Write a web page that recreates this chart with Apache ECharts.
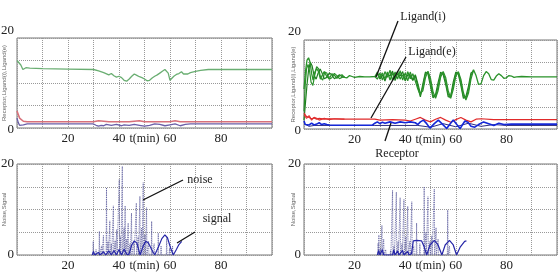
<!DOCTYPE html>
<html>
<head>
<meta charset="utf-8">
<script src="https://cdn.jsdelivr.net/npm/echarts@6/dist/echarts.min.js"></script>
<style>
html, body { margin: 0; padding: 0; background: #fff; }
#chart { width: 558px; height: 272px; }
</style>
</head>
<body>
<div id="chart"></div>
<script>
// tick labels shown on the axes
const xTickLabels = [20, 40, 60, 80]
const yTickLabels = [0, 20]

// top left panel, [t, value]
const tlLigandI = [[0,15.0],[0.7,15.4],[1.5,14.0],[2.3,13.0],[3.5,13.4],[5,13.3],[10,13.2],[20,13.1],[30,13.0],[32,12.7],[34,12.3],[36,11.8],[37,12.1],[38,11.6],[39,11.3],[40,11.5],[41,11.2],[42,10.6],[43,10.4],[44,10.9],[45,11.5],[46,12.0],[47,11.7],[48,11.4],[49,11.2],[50,10.9],[51,10.5],[52,10.6],[53,11.1],[54,11.5],[55,11.8],[56,12.2],[57,12.6],[58,13.0],[58.7,13.2],[59.3,12.2],[60,10.6],[60.6,10.8],[61.5,11.5],[62.5,11.9],[63.5,12.1],[64.5,12.5],[65.3,12.0],[66,11.8],[67,12.0],[68,12.3],[70,12.6],[72,12.8],[75,13.0],[80,13.0],[100,13.0]]
const tlLigandE = [[0,3.8],[0.5,3.0],[1,2.2],[1.5,1.8],[2.5,1.5],[4,1.4],[30,1.4],[32,1.6],[34,1.5],[36,1.4],[44,1.4],[48,1.6],[50,1.4],[60,1.4],[62,1.6],[64,1.4],[100,1.4]]
const tlReceptor = [[0,2.2],[0.5,1.2],[1,0.6],[1.5,0.5],[2.5,0.7],[4,0.9],[30,0.9],[31,0.6],[32,0.4],[33,0.6],[34,0.5],[35,0.8],[37,0.6],[39,0.8],[41,0.5],[42,0.7],[44,0.6],[46,0.8],[48,0.6],[50,0.4],[52,0.6],[54,0.9],[56,0.8],[58,0.5],[60,0.7],[62,0.9],[64,0.5],[66,0.8],[68,0.9],[100,0.9]]

// top right panel
const trLigandI = [[0,9],[0.6,13],[1.2,15.5],[1.8,16],[2.4,15],[3,12.5],[3.6,11],[4.3,12.8],[5,13.6],[5.8,12.8],[6.5,11.2],[7.3,12.2],[8,12.9],[9,11.8],[10,11.3],[11,12.4],[12,12.1],[13,11.4],[14,11.9],[15,12.2],[16,11.6],[17,11.5],[18,12.0],[19,11.8],[20,11.6],[22,11.8],[24,11.7],[26,11.7],[28,11.8],[29,12.3],[30,11.6],[31,12.6],[32,11.3],[33,12.8],[34,11.0],[35,12.5],[36,11.4],[37,13.0],[38,11.2],[39,12.2],[40,11.0],[41,12.9],[42,11.3],[43,12.4],[44,10.8],[45,9.0],[46,7.6],[47,9.5],[48,12.4],[49,12.8],[50,10.5],[51,7.6],[52,7.2],[53,9.5],[54,12.2],[55,12.7],[56,10.8],[57,7.8],[57.8,7.0],[59,9.8],[60,12.3],[61,12.7],[62,10.5],[63,7.4],[64,6.8],[65,8.8],[66,12.0],[67,13.3],[68,12.0],[69,10.0],[70,10.2],[71,12.0],[72,12.9],[73,12.4],[74,11.1],[75,11.0],[76,11.9],[77,12.4],[78,12.0],[79,11.4],[80,11.5],[81,12.0],[82,11.9],[83,11.6],[84,11.7],[86,11.8],[90,11.7],[100,11.7]]
const trLigandIb = [[0,4],[0.5,10],[1,13.5],[1.6,14.5],[2.2,13],[2.8,10.5],[3.5,9.8],[4.2,12],[5,14],[5.8,13.5],[6.6,11.5],[7.4,11],[8.2,12.8],[9,12.6],[10,11.2],[11,11.5],[12,12.5],[13,12],[14,11.3],[15,11.6],[16,11.8],[22,'-'],[28,11.8],[29,11.2],[30,12.6],[31,11.0],[32,12.9],[33,11.6],[34,13.2],[35,10.9],[36,12.8],[37,11.2],[38,13.1],[39,11.0],[40,12.6],[41,10.8],[42,12.8],[43,11.0],[44,12.2],[45,10.2],[46,8.0],[47,8.6],[48,11.5],[49,13.0],[50,11.4],[51,8.4],[52,6.9],[53,8.6],[54,11.6],[55,12.9],[56,11.6],[57,8.6],[58,6.9],[59,8.9],[60,11.8],[61,12.9],[62,11.2],[63,8.2],[64,6.5],[65,8.0],[66,11.2],[67,13.2]]
const trLigandIc = [[0,2],[0.6,6],[1.2,10],[1.8,13.2],[2.5,15],[3.2,14.2],[4,12],[4.8,11.2],[5.6,12.6],[6.4,13.5],[7.2,12.5],[8,11.3],[9,11.6],[10,12.6],[11,12.2],[12,11.3],[13,11.7],[14,12.2],[15,11.8],[16,11.6],[22,'-'],[28,11.7],[29,12.8],[30,11.2],[31,12.2],[32,10.8],[33,12.4],[34,11.9],[35,13.0],[36,10.9],[37,12.4],[38,11.9],[39,12.9],[40,10.8],[41,12.2],[42,12.0],[43,10.9],[44,12.0],[45,9.5],[46,7.2],[47,10.2],[48,12.8],[49,12.4],[50,9.6],[51,7.0],[52,7.8],[53,10.4],[54,12.8],[55,12.2],[56,10.0],[57,7.2],[58,7.4],[59,10.6],[60,12.8],[61,12.3],[62,9.8],[63,6.9],[64,7.3],[65,9.6],[66,12.6],[67,13.0]]
const trLigandE = [[0,3.6],[0.5,3.2],[1,2.8],[2,2.6],[3,2.3],[4,2.5],[5,2.2],[6,2.4],[8,2.2],[10,2.3],[15,2.2],[28,2.2],[30,2.0],[35,2.1],[40,2.0],[42,1.8],[44,2.2],[46,2.6],[48,2.0],[50,1.6],[52,2.2],[54,2.6],[56,2.0],[58,1.5],[60,2.1],[62,2.6],[64,2.0],[66,1.6],[68,2.2],[70,2.3],[75,2.1],[100,2.1]]
const trLigandEb = [[0,3.2],[1,2.4],[2,3.0],[3,2.0],[4,2.6],[5,2.4],[6,2.0],[8,2.4],[10,2.1],[12,2.3],[16,2.2]]
const trReceptor = [[0,1.8],[0.5,1.0],[1.2,0.6],[2,0.9],[3,1.3],[4,0.9],[5,1.1],[6,1.4],[7,1.0],[8,1.2],[9,1.0],[10,0.9],[12,0.85],[27,0.85],[28,1.3],[29,1.6],[30,1.2],[31,1.5],[32,1.3],[34,1.6],[36,1.3],[38,1.6],[40,1.4],[42,1.6],[44,1.4],[45,1.0],[46,1.6],[47.2,2.0],[48.5,1.2],[49.8,0.2],[51.5,1.2],[53.1,2.0],[54.7,1.1],[56.4,0.1],[57.8,1.2],[59,2.0],[60.4,1.0],[61.7,0.1],[62.7,1.0],[63.6,1.8],[64.8,1.5],[66,0.6],[67.5,0.4],[69,1.0],[71,1.6],[73,1.2],[75,0.8],[77,1.3],[79,1.0],[82,1.1],[100,1.1]]
const trReceptorB = [[0,1.2],[2,0.6],[4,0.8],[10,0.8],[28,0.8],[45,0.8],[50,0.4],[55,1.2],[60,0.5],[65,1.3],[70,0.6],[75,1.0],[80,0.8],[100,0.8]]

// bottom panels: noise spikes [t, height] and signal [t, value]
const blNoise = [[29.9,3.0],[31.0,1.2],[32.3,5.2],[33.2,2.0],[33.9,4.3],[35.1,14.8],[35.7,3.0],[36.4,7.5],[37.0,2.5],[37.8,10.8],[38.5,3.2],[39.1,5.6],[40.1,16.6],[40.6,4.0],[41.3,19.5],[42.0,6.0],[42.4,10.8],[43.0,3.5],[43.6,7.0],[44.3,2.5],[44.9,9.2],[45.8,3.0],[46.8,11.4],[47.5,4.0],[48.2,12.9],[48.9,6.0],[49.5,15.9],[50.2,4.5],[50.8,10.4],[51.6,3.0],[52.8,7.4],[53.8,2.5],[55.4,4.8],[56.5,2.0],[58.7,4.0],[59.8,1.5],[61,2.0]]
const blSignal = [[29.5,0],[30,0.8],[30.5,0],[32,0.6],[32.5,0],[34,0.7],[34.8,0],[36,0.9],[37,0],[38,1.0],[39,0],[40,1.2],[41,0],[42,1.3],[43,0.2],[43.8,0],[45,2.2],[46,3.1],[47,2.6],[48.3,0],[49.5,2.0],[50.5,3.0],[51.5,2.7],[52.8,1.2],[54,0],[55.5,1.8],[56.8,3.6],[58,4.4],[59,3.8],[60.2,1.6],[61.3,0],[62.5,1.2],[63.5,2.3],[64.6,3.0]]
const brNoise = [[29.3,2.6],[29.6,4.4],[30.2,1.5],[30.8,6.5],[31.5,3.5],[32.3,1.2],[34.2,1.0],[35.0,14.2],[35.6,2.0],[36.5,13.8],[37.2,3.0],[38.0,12.6],[38.7,2.5],[39.5,12.2],[40.2,4.0],[41.0,10.7],[41.8,3.0],[42.6,11.7],[43.4,2.0],[44.5,7.0],[45.8,2.5],[47.5,15.0],[48.2,5.0],[49.0,12.8],[49.8,3.0],[50.5,4.2],[51.5,14.5],[52.2,6.0],[53.0,3.5],[56.8,9.9],[57.5,2.0]]
const brSignal = [[29,0],[29.5,1.0],[30,0],[31,1.2],[31.5,0],[35,0],[35.5,1.1],[36,0],[37,0.9],[37.5,0],[39,1.0],[39.5,0],[41,0.8],[41.5,0],[42.5,0.3],[43.2,3.1],[44.5,3.2],[46.5,3.1],[47.5,1.8],[48.5,0],[49.8,2.2],[51.5,3.2],[53,2.2],[54.5,0],[55.8,2.2],[57.5,3.2],[59,2.2],[60.3,0],[61.8,1.8],[63.5,3.0],[64.2,3.1]]

function spikes(list) {
    let out = []
    list.forEach(p => {
        out.push([p[0] - 0.15, 0], [p[0], p[1]], [p[0] + 0.15, 0])
    })
    return out
}

const serif = 'Liberation Serif'

function xAxis(i) {
    return {
        type: 'value', gridIndex: i, min: 0, max: 100, interval: 10,
        name: 't(min)', nameLocation: 'middle', nameGap: 5, nameMoveOverlap: false,
        nameTextStyle: { fontFamily: serif, fontSize: 12, color: '#222' },
        axisLine: { show: false }, axisTick: { show: false },
        splitLine: { lineStyle: { type: 'dotted', color: '#999' } },
        axisLabel: {
            margin: 4, fontFamily: serif, fontSize: 13, color: '#222',
            formatter: v => xTickLabels.includes(v) ? String(v) : ''
        }
    }
}

function yAxis(i, name, gap, lift) {
    return {
        type: 'value', gridIndex: i, min: 0, max: 20, interval: 5,
        name: name, nameLocation: 'middle', nameGap: gap, nameMoveOverlap: false,
        nameTextStyle: { fontFamily: 'Liberation Sans', fontSize: 6, color: '#666' },
        axisLine: { show: false }, axisTick: { show: false },
        splitLine: { lineStyle: { type: 'dotted', color: '#999' } },
        axisLabel: {
            margin: 3, fontFamily: serif, fontSize: 13, color: '#222',
            formatter: v => {
                if (!yTickLabels.includes(v)) return ''
                return v === 20 ? '{t|' + v + '}' : '{b|' + v + '}'
            },
            rich: {
                t: { fontFamily: serif, fontSize: 13, color: '#222', padding: [0, 0, lift, 0] },
                b: { fontFamily: serif, fontSize: 13, color: '#222', padding: [lift > 0 ? 3 : 0, 0, 0, 0] }
            }
        }
    }
}

function line(i, data, color, width, z) {
    return {
        type: 'line', xAxisIndex: i, yAxisIndex: i, data: data,
        showSymbol: false, symbol: 'none', animation: false, z: z || 2,
        lineStyle: { color: color, width: width }
    }
}

function noiseLine(i, data) {
    let s = line(i, spikes(data), '#5a5a9c', 0.9)
    s.lineStyle.type = 'dotted'
    return s
}

const grid = (left, top, width, height) => ({
    left: left, top: top, width: width, height: height,
    show: true, borderColor: '#777', borderWidth: 1, backgroundColor: 'transparent',
    containLabel: false, outerBoundsMode: 'none'
})

const chart = echarts.init(document.getElementById('chart'), null, { renderer: 'canvas' })

let annText = (text, x, y) => ({
    type: 'text', x: x, y: y, z: 100,
    style: { text: text, font: '12px "Liberation Serif"', fill: '#222', align: 'center', verticalAlign: 'middle' }
})
let annLine = (x1, y1, x2, y2) => ({
    type: 'line', z: 100, shape: { x1: x1, y1: y1, x2: x2, y2: y2 },
    style: { stroke: '#111', lineWidth: 1.3 }
})

chart.setOption({
    backgroundColor: '#fff',
    animation: false,
    grid: [
        grid(17, 38, 255, 90),
        grid(304, 40, 253, 89),
        grid(17, 164, 255, 91),
        grid(304, 164, 253, 91)
    ],
    xAxis: [xAxis(0), xAxis(1), xAxis(2), xAxis(3)],
    yAxis: [
        yAxis(0, 'Receptor,Ligand(i),Ligand(e)', 10, 14),
        yAxis(1, 'Receptor,Ligand(i),Ligand(e)', 8, 16),
        yAxis(2, 'Noise,Signal', 10, 0),
        yAxis(3, 'Noise,Signal', 8, 0)
    ],
    series: [
        line(0, tlLigandI, '#6aae72', 1.3),
        line(0, tlLigandE, '#d8707a', 1.6),
        line(0, tlReceptor, '#6a5ea8', 1.3),

        line(1, trLigandIb, '#2b8f2b', 1.2),
        line(1, trLigandIc, '#1f7f1f', 1.2),
        line(1, trLigandI, '#2a922a', 1.3, 3),
        line(1, trLigandEb, '#e03a3a', 1.2),
        line(1, trLigandE, '#e02a2a', 1.2),
        line(1, trReceptorB, '#2c2c80', 1),
        line(1, trReceptor, '#1428d8', 1.6),

        noiseLine(2, blNoise),
        line(2, blSignal, '#2626a8', 1.2, 3),
        noiseLine(3, brNoise),
        line(3, brSignal, '#2626a8', 1.2, 3)
    ],
    graphic: [
        annText('Ligand(i)', 423, 17),
        annLine(398, 21, 376, 77),
        annText('Ligand(e)', 432, 52),
        annLine(406, 57, 371, 118),
        annText('Receptor', 397, 154),
        annLine(385, 141, 391, 123),
        annText('noise', 200, 180),
        annLine(183, 180, 143, 200),
        annText('signal', 217, 219),
        annLine(195, 232, 177, 243)
    ]
})
</script>
</body>
</html>
